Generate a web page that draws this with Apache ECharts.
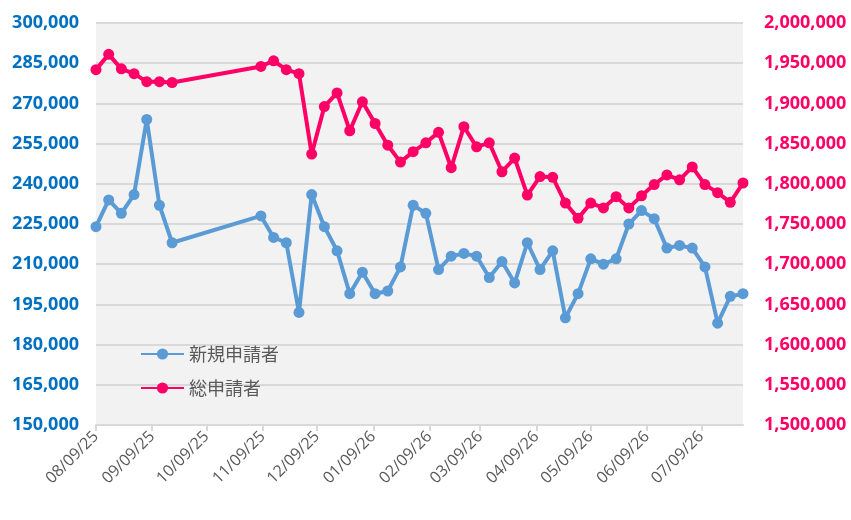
<!DOCTYPE html>
<html><head><meta charset="utf-8">
<script src="https://cdn.jsdelivr.net/npm/echarts@6/dist/echarts.min.js"></script>
<style>html,body{margin:0;padding:0;background:#fff}#c{width:851px;height:520px}</style>
</head><body><div id="c"></div>
<script>
const weeks = [
 '2025-08-09','2025-08-16','2025-08-23','2025-08-30','2025-09-06','2025-09-13','2025-09-20',
 '2025-11-08','2025-11-15','2025-11-22','2025-11-29','2025-12-06','2025-12-13','2025-12-20','2025-12-27',
 '2026-01-03','2026-01-10','2026-01-17','2026-01-24','2026-01-31','2026-02-07','2026-02-14','2026-02-21','2026-02-28',
 '2026-03-07','2026-03-14','2026-03-21','2026-03-28','2026-04-04','2026-04-11','2026-04-18','2026-04-25',
 '2026-05-02','2026-05-09','2026-05-16','2026-05-23','2026-05-30','2026-06-06','2026-06-13','2026-06-20','2026-06-27',
 '2026-07-04','2026-07-11','2026-07-18','2026-07-25','2026-08-01'
];
const newClaims = [
 224000,234000,229000,236000,264000,232000,218000,
 228000,220000,218000,192000,236000,224000,215000,199000,207000,199000,
 200000,209000,232000,229000,208000,213000,214000,213000,205000,211000,
 203000,218000,208000,215000,190000,199000,212000,210000,212000,225000,
 230000,227000,216000,217000,216000,209000,188000,198000,199000
];
const totalClaims = [
 1942000,1961000,1943000,1937000,1927000,1927000,1926000,
 1946000,1953000,1942000,1937000,1837000,1896000,1913000,1866000,1902000,1875000,
 1848000,1827000,1840000,1851000,1864000,1820000,1871000,1846000,1851000,1815000,
 1832000,1786000,1809000,1808000,1776000,1757000,1776000,1770000,1784000,1770000,
 1785000,1799000,1811000,1805000,1821000,1799000,1789000,1777000,1801000
];
const tickDates = ['2025-08-09','2025-09-09','2025-10-09','2025-11-09','2025-12-09','2026-01-09',
 '2026-02-09','2026-03-09','2026-04-09','2026-05-09','2026-06-09','2026-07-09'];
const seriesNames = ['新規申請者','総申請者'];

function toTs(s){const p=s.split('-');return Date.UTC(+p[0],+p[1]-1,+p[2]);}
const tickTs = tickDates.map(toTs);
function pad(n){return (n<10?'0':'')+n;}
function fmtDate(v){const d=new Date(v);return pad(d.getUTCMonth()+1)+'/'+pad(d.getUTCDate())+'/'+pad(d.getUTCFullYear()%100);}

const chart = echarts.init(document.getElementById('c'));
chart.setOption({
  animation:false,
  backgroundColor:'#ffffff',
  grid:{left:96,right:108,top:23,bottom:95,show:true,backgroundColor:'#F2F2F2',borderWidth:0},
  legend:{
    orient:'vertical', left:135, top:340, itemWidth:43, itemHeight:14, itemGap:16,
    textStyle:{color:'#595959',fontSize:18,fontFamily:'Noto Sans CJK JP'},
    data:seriesNames
  },
  xAxis:{
    type:'value', min:toTs(weeks[0]), max:toTs(weeks[weeks.length-1]),
    axisLine:{show:true,lineStyle:{color:'#D9D9D9',width:2}},
    axisTick:{show:true,customValues:tickTs,length:6,lineStyle:{color:'#D9D9D9',width:2}},
    axisLabel:{customValues:tickTs,formatter:fmtDate,rotate:45,color:'#595959',fontSize:16,
      fontFamily:'Open Sans',margin:9,showMinLabel:true,showMaxLabel:true},
    splitLine:{show:false}
  },
  yAxis:[{
    type:'value', min:150000, max:300000, interval:15000, position:'left',
    axisLine:{show:false}, axisTick:{show:false},
    axisLabel:{color:'#0070C0',fontSize:18,fontWeight:'bold',fontFamily:'Open Sans',margin:17,
      formatter:v=>v.toLocaleString('en-US')},
    splitLine:{lineStyle:{color:'#D9D9D9',width:2}}
  },{
    type:'value', min:1500000, max:2000000, interval:50000, position:'right',
    axisLine:{show:false}, axisTick:{show:false},
    axisLabel:{color:'#FF0066',fontSize:18,fontWeight:'bold',fontFamily:'Open Sans',margin:21,
      formatter:v=>v.toLocaleString('en-US')},
    splitLine:{show:false}
  }],
  series:[{
    name:seriesNames[0], type:'line', yAxisIndex:0,
    data:weeks.map((w,i)=>[toTs(w),newClaims[i]]),
    symbol:'circle', symbolSize:11,
    lineStyle:{color:'#5B9BD5',width:4}, itemStyle:{color:'#5B9BD5'}
  },{
    name:seriesNames[1], type:'line', yAxisIndex:1,
    data:weeks.map((w,i)=>[toTs(w),totalClaims[i]]),
    symbol:'circle', symbolSize:11,
    lineStyle:{color:'#FF0066',width:4}, itemStyle:{color:'#FF0066'}
  }]
});
</script></body></html>
